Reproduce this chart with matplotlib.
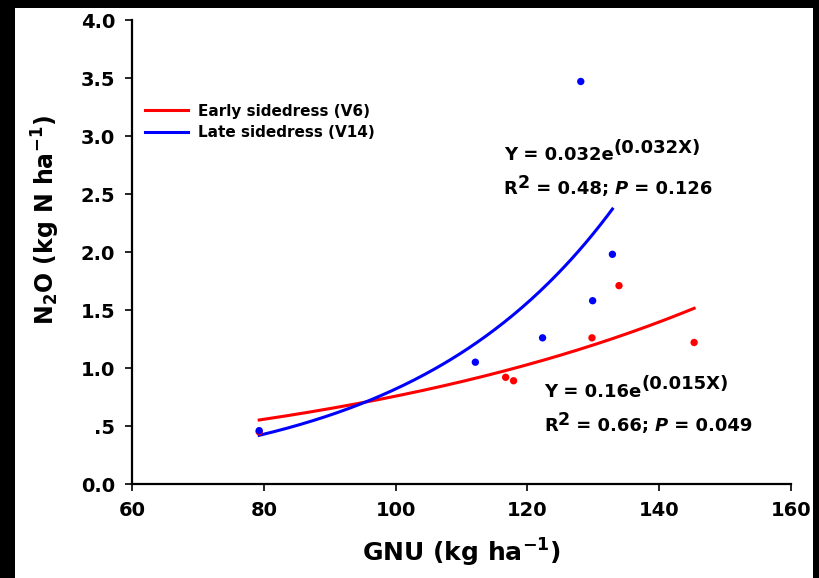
import numpy as np
import matplotlib
matplotlib.use("Agg")
import matplotlib.pyplot as plt
from matplotlib.patches import Rectangle

plt.rcParams['font.family'] = ['DejaVu Sans']
plt.rcParams['font.weight'] = 'bold'
plt.rcParams['axes.labelweight'] = 'bold'
plt.rcParams['mathtext.fontset'] = 'dejavusans'
plt.rcParams['mathtext.default'] = 'bf'

# Observations: grain N uptake (GNU) vs cumulative N2O emission
early_gnu = [79.3, 116.7, 117.9, 129.8, 133.9, 145.3]
early_n2o = [0.45, 0.92, 0.89, 1.26, 1.71, 1.22]
late_gnu = [79.3, 112.1, 122.3, 128.1, 129.9, 132.9]
late_n2o = [0.46, 1.05, 1.26, 3.47, 1.58, 1.98]

# Exponential fits Y = a * exp(b * X)
early_fit = (0.164, 0.0153)
late_fit = (0.0324, 0.0323)
early_stats = (0.66, 0.049)
late_stats = (0.48, 0.126)

series_labels = ["Early sidedress (V6)", "Late sidedress (V14)"]
x_ticks = [60, 80, 100, 120, 140, 160]
y_ticks = [0.0, 0.5, 1.0, 1.5, 2.0, 2.5, 3.0, 3.5, 4.0]
y_tick_labels = ["0.0", ".5", "1.0", "1.5", "2.0", "2.5", "3.0", "3.5", "4.0"]

W, H = 819, 578
fig = plt.figure(figsize=(W / 100, H / 100), dpi=100)
fig.patch.set_facecolor("black")
fig.add_artist(Rectangle((15 / W, 0), (813 - 15) / W, (H - 8) / H,
                         transform=fig.transFigure, facecolor="white",
                         edgecolor="none", zorder=-10))

ax = fig.add_axes([132 / W, 1 - 484 / H, (791 - 132) / W, (484 - 20) / H])
ax.set_xlim(60, 160)
ax.set_ylim(0, 4)
for side in ("top", "right"):
    ax.spines[side].set_visible(False)
for side in ("left", "bottom"):
    ax.spines[side].set_linewidth(1.6)
ax.set_xticks(x_ticks)
ax.set_yticks(y_ticks)
ax.set_yticklabels(y_tick_labels)
ax.tick_params(direction="out", length=5, width=1.2, labelsize=14, pad=7)


def fit_curve(xs, params):
    a, b = params
    gx = np.linspace(min(xs), max(xs), 200)
    return gx, a * np.exp(b * gx)


ex, ey = fit_curve(early_gnu, early_fit)
lx, ly = fit_curve(late_gnu, late_fit)
red_line, = ax.plot(ex, ey, color="red", lw=2.2, zorder=2)
blue_line, = ax.plot(lx, ly, color="blue", lw=2.2, zorder=2)
ax.scatter(early_gnu, early_n2o, s=28, color="red", zorder=3, edgecolors="none")
ax.scatter(late_gnu, late_n2o, s=28, color="blue", zorder=4, edgecolors="none")

ax.set_xlabel(r"GNU (kg ha$^{-1}$)", fontsize=18, fontweight="bold", labelpad=12)
ax.set_ylabel(r"N$_2$O (kg N ha$^{-1}$)", fontsize=17, fontweight="bold")
ax.yaxis.set_label_coords(-0.106, 0.57)

ax.legend([red_line, blue_line], series_labels, loc="upper left",
          bbox_to_anchor=(0.02, 0.82), frameon=False, fontsize=11,
          handlelength=2.8, handletextpad=0.65, labelspacing=0.45,
          borderpad=0, borderaxespad=0)


def equation(x, y, params, stats, size=13):
    a, b = params
    r2, p = stats
    base = ax.text(x, y, f"Y = {a:.{2 if a >= 0.1 else 3}f}e", fontsize=size,
                   ha="left", va="baseline")
    ax.annotate(f"({b:.3f}X)", xy=(1, 0), xycoords=(base, base),
                xytext=(0, 5.5), textcoords="offset points",
                fontsize=size, ha="left", va="bottom")
    row = ax.annotate("R", xy=(0, 0), xycoords=(base, base),
                      xytext=(0, -24.5), textcoords="offset points",
                      fontsize=size, ha="left", va="bottom")
    parts = [("2", size - 0.5, "normal", 4.5),
             (f" = {r2:.2f}; ", size, "normal", 0),
             ("P", size, "italic", 0),
             (f" = {p:.3f}", size, "normal", 0)]
    prev = row
    for text, fs, style, rise in parts:
        prev = ax.annotate(text, xy=(1, 0), xycoords=(prev, row),
                           xytext=(0, rise), textcoords="offset points",
                           fontsize=fs, style=style, ha="left", va="bottom")


equation(116.4, 2.79, late_fit, late_stats)
equation(122.5, 0.75, early_fit, early_stats)

fig.savefig("out.png", dpi=100, facecolor=fig.get_facecolor())
